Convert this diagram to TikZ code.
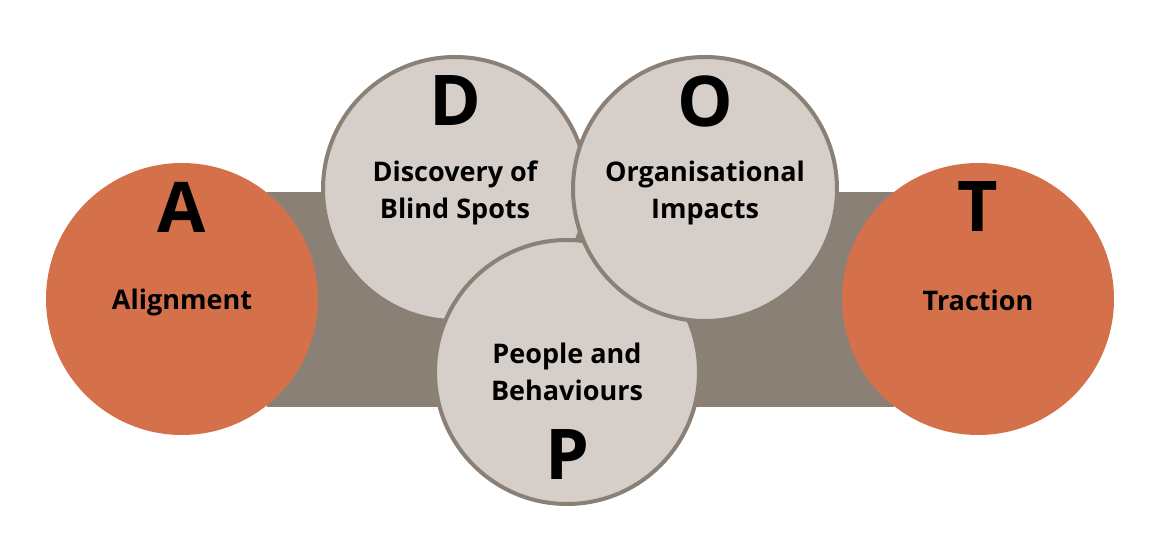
\documentclass[tikz,border=0pt]{standalone}
\usepackage{fontspec}
\setmainfont{Open Sans}
\definecolor{rust}{HTML}{D4714A}
\definecolor{taupe}{HTML}{8B8075}
\definecolor{stone}{HTML}{D5CEC9}
\tikzset{
  pillar/.style={circle, fill=rust, minimum size=272pt, inner sep=0pt},
  petal/.style={circle, fill=stone, draw=taupe, line width=4pt, minimum size=264pt, inner sep=0pt},
  letter/.style={font=\fontsize{70}{70}\selectfont\bfseries, text=black},
  caption/.style={font=\fontsize{27}{37}\selectfont\bfseries, align=center, text=black}
}
\begin{document}
\begin{tikzpicture}[x=1pt, y=-1pt]

  \useasboundingbox (0,0) rectangle (1160,548);

  % -- Connecting band --
  \fill[taupe] (267,192) rectangle (894,407);

  % -- Outer pillars --
  \node[pillar] (align) at (182,299) {};
  \node[pillar] (tract) at (978,299) {};

  % -- Middle circles (D under P under O) --
  \node[petal] (disc) at (455,189) {};
  \node[petal] (peop) at (567,372) {};
  \node[petal] (orga) at (705,189) {};

  % -- Letters --
  \node[letter] (aL) at (182,207) {A};
  \node[letter] (tL) at (978,207) {T};
  \node[letter] (dL) at (455,101) {D};
  \node[letter] (oL) at (705,101) {O};
  \node[letter] (pL) at (567,455) {P};

  % -- Captions --
  \node[caption] (aT) at (182,302) {Alignment};
  \node[caption] (tT) at (978,300) {Traction};
  \node[caption] (dT) at (455,193) {Discovery of\\Blind Spots};
  \node[caption] (oT) at (705,193) {Organisational\\Impacts};
  \node[caption] (pT) at (567,372) {People and\\Behaviours};

\end{tikzpicture}
\end{document}
